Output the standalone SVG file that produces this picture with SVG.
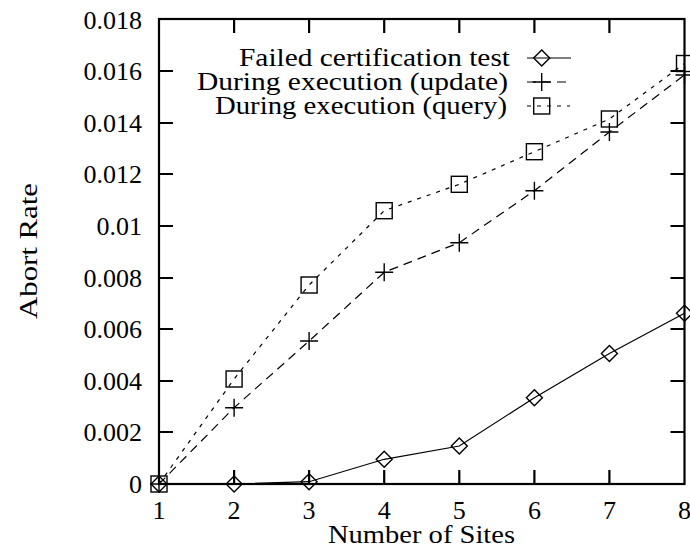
<svg xmlns="http://www.w3.org/2000/svg" width="690" height="551" viewBox="0 0 690 551">
<style>
text{font-family:"Liberation Serif","Times New Roman",serif;font-size:26px;fill:#000}
.yl{text-anchor:end}
.xl{text-anchor:middle}
.frame{fill:none;stroke:#000;stroke-width:2.2}
.tick{stroke:#000;stroke-width:2.2}
.s1{fill:none;stroke:#000;stroke-width:1.2}
.s2{fill:none;stroke:#000;stroke-width:1.2;stroke-dasharray:9,6}
.s3{fill:none;stroke:#000;stroke-width:1.2;stroke-dasharray:4,6}
.mk{fill:none;stroke:#000;stroke-width:1.4}
</style>
<defs>
<path id="dia" d="M-8,0 L0,-8 L8,0 L0,8 Z" class="mk"/>
<path id="plus" d="M-9,0 H9 M0,-9 V9" class="mk"/>
<rect id="sq" x="-8" y="-8" width="16" height="16" class="mk"/>
</defs>
<g id="axes">
<rect class="frame" x="159" y="19" width="525.5" height="465"/>
<path class="tick" d="M159,71h14M159,123h14M159,174h14M159,226h14M159,278h14M159,329h14M159,381h14M159,432h14
M684.5,71h-14M684.5,123h-14M684.5,174h-14M684.5,226h-14M684.5,278h-14M684.5,329h-14M684.5,381h-14M684.5,432h-14
M234.1,484v-14M309.1,484v-14M384.2,484v-14M459.3,484v-14M534.4,484v-14M609.4,484v-14
M234.1,19v14M309.1,19v14M384.2,19v14M459.3,19v14M534.4,19v14M609.4,19v14"/>
<text class="yl" x="142" y="28.5">0.018</text>
<text class="yl" x="142" y="80">0.016</text>
<text class="yl" x="142" y="132">0.014</text>
<text class="yl" x="142" y="183">0.012</text>
<text class="yl" x="142" y="235">0.01</text>
<text class="yl" x="142" y="287">0.008</text>
<text class="yl" x="142" y="338">0.006</text>
<text class="yl" x="142" y="390">0.004</text>
<text class="yl" x="142" y="441">0.002</text>
<text class="yl" x="142" y="493">0</text>
<text class="xl" x="159" y="519">1</text>
<text class="xl" x="234.1" y="519">2</text>
<text class="xl" x="309.1" y="519">3</text>
<text class="xl" x="384.2" y="519">4</text>
<text class="xl" x="459.3" y="519">5</text>
<text class="xl" x="534.4" y="519">6</text>
<text class="xl" x="609.4" y="519">7</text>
<text class="xl" x="684.5" y="519">8</text>
<text class="xl" x="421.5" y="543" textLength="187" lengthAdjust="spacingAndGlyphs">Number of Sites</text>
<text class="xl" transform="translate(37,251) rotate(-90)" textLength="136" lengthAdjust="spacingAndGlyphs">Abort Rate</text>
</g>
<g id="connectors">
<polyline id="line-failed" class="s1" points="159,484 234.1,484 309.1,481.7 384.2,459.3 459.3,446 534.4,397.7 609.4,353.5 684.5,313.3"/>
<polyline id="line-update" class="s2" points="159,484 234.1,407.7 309.1,341 384.2,272.3 459.3,242.7 534.4,190.7 609.4,132 684.5,75"/>
<polyline id="line-query" class="s3" points="159,484 234.1,379 309.1,285 384.2,210.7 459.3,184.3 534.4,151.7 609.4,119 684.5,63.5"/>
</g>
<g id="series-failed">
<use href="#dia" x="159" y="484"/><use href="#dia" x="234.1" y="484"/><use href="#dia" x="309.1" y="481.7"/><use href="#dia" x="384.2" y="459.3"/><use href="#dia" x="459.3" y="446"/><use href="#dia" x="534.4" y="397.7"/><use href="#dia" x="609.4" y="353.5"/><use href="#dia" x="684.5" y="313.3"/>
</g>
<g id="series-update">
<use href="#plus" x="159" y="484"/><use href="#plus" x="234.1" y="407.7"/><use href="#plus" x="309.1" y="341"/><use href="#plus" x="384.2" y="272.3"/><use href="#plus" x="459.3" y="242.7"/><use href="#plus" x="534.4" y="190.7"/><use href="#plus" x="609.4" y="132"/><use href="#plus" x="684.5" y="75"/>
</g>
<g id="series-query">
<use href="#sq" x="159" y="484"/><use href="#sq" x="234.1" y="379"/><use href="#sq" x="309.1" y="285"/><use href="#sq" x="384.2" y="210.7"/><use href="#sq" x="459.3" y="184.3"/><use href="#sq" x="534.4" y="151.7"/><use href="#sq" x="609.4" y="119"/><use href="#sq" x="684.5" y="63.5"/>
</g>
<g id="legend">
<text class="yl" x="510" y="65.5" textLength="271" lengthAdjust="spacingAndGlyphs">Failed certification test</text>
<text class="yl" x="508" y="89.5" textLength="311" lengthAdjust="spacingAndGlyphs">During execution (update)</text>
<text class="yl" x="507" y="113.5" textLength="292" lengthAdjust="spacingAndGlyphs">During execution (query)</text>
<line class="s1" x1="527" y1="58" x2="571" y2="58"/>
<use href="#dia" x="541.7" y="58"/>
<line class="s2" x1="527" y1="82" x2="567" y2="82"/>
<use href="#plus" x="541.7" y="82"/>
<line class="s3" x1="527" y1="106" x2="570" y2="106"/>
<use href="#sq" x="541.7" y="106"/>
</g>
</svg>
